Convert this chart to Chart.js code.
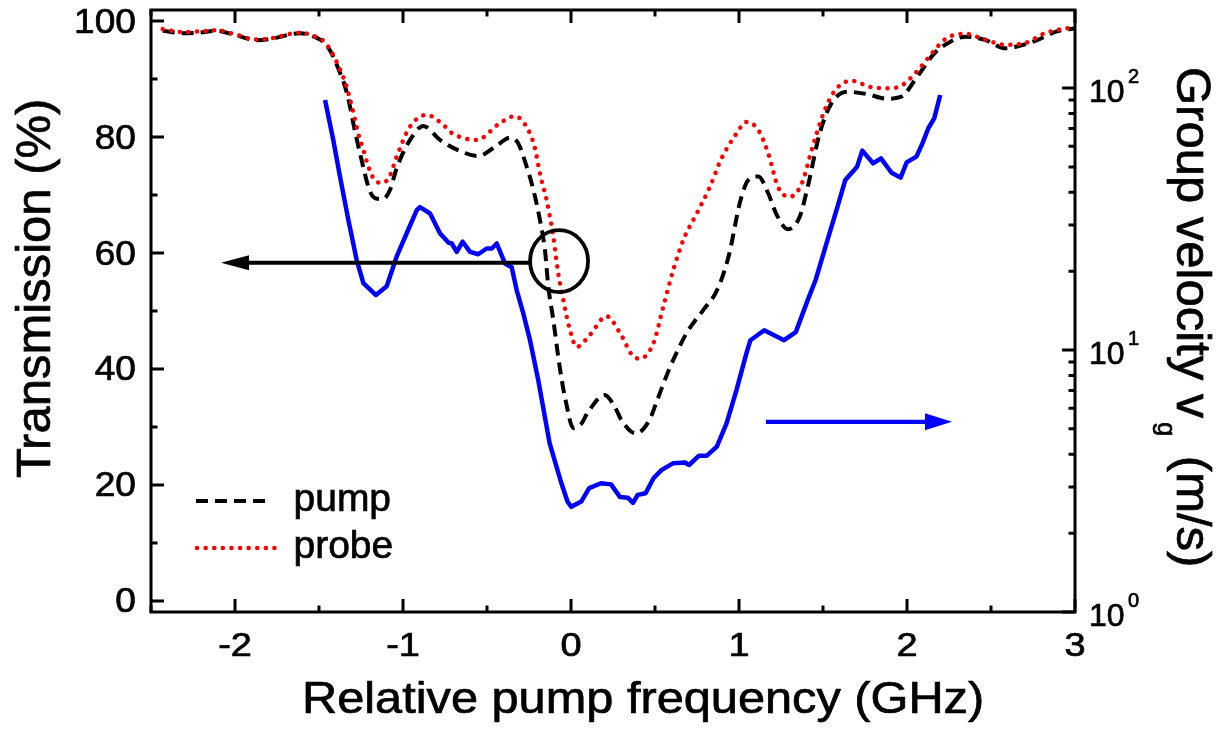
<!DOCTYPE html>
<html>
<head>
<meta charset="utf-8">
<title>Pump / probe transmission and group velocity</title>
<script src="https://cdn.jsdelivr.net/npm/chart.js@4.4.1/dist/chart.umd.min.js"></script>
<style>
  html, body { margin: 0; padding: 0; background: #fff; }
  #wrap { width: 1230px; height: 731px; }
</style>
</head>
<body>
<div id="wrap"><canvas id="chart" width="1230" height="731"></canvas></div>

<script>
// ===============================
// Data
// ===============================
// pump transmission (%), black dashed, left axis
const pumpX = [-2.43, -2.31, -2.21, -2.11, -2.01, -1.87, -1.77, -1.67, -1.61, -1.53, -1.47, -1.43,
  -1.385, -1.345, -1.315, -1.296, -1.256, -1.196, -1.16, -1.12, -1.077, -1.038, -0.958, -0.879,
  -0.78, -0.661, -0.552, -0.452, -0.363, -0.314, -0.264, -0.224, -0.185, -0.155, -0.135, -0.105,
  -0.076, -0.055, -0.033, 0.014, 0.06, 0.1, 0.2, 0.26, 0.3, 0.385, 0.467, 0.514, 0.585, 0.632,
  0.688, 0.788, 0.868, 0.938, 1.009, 1.056, 1.115, 1.174, 1.221, 1.291, 1.362, 1.409, 1.48,
  1.55, 1.644, 1.762, 1.88, 1.962, 2.068, 2.162, 2.256, 2.351, 2.468, 2.586, 2.656, 2.774,
  2.892, 3.0];
const pumpY = [98.3, 97.9, 98.0, 98.3, 97.7, 96.7, 97.0, 97.7, 97.9, 97.3, 96.3, 94.7,
  91.8, 88.7, 85.2, 82.4, 77.2, 70.6, 69.4, 69.3, 70.9, 74.6, 79.5, 81.9,
  79.5, 77.6, 76.7, 78.3, 79.9, 78.9, 74.9, 70.9, 65.7, 60.5, 54.2, 48.4,
  42.1, 38.1, 34.7, 29.8, 30.5, 32.5, 35.5, 33.5, 31.2, 28.9, 31.2, 34.7, 40.0, 43.0,
  46.2, 50.2, 53.5, 59.4, 69.1, 72.6, 73.2, 70.3, 66.8, 64.1, 66.3, 71.4, 80.6,
  85.8, 87.8, 87.4, 86.6, 86.9, 90.7, 94.4, 96.4, 97.3, 96.7, 95.3, 95.6, 96.7,
  98.2, 98.7];

// probe transmission (%), red dotted, left axis
const probeX = [-2.43, -2.31, -2.21, -2.11, -2.01, -1.87, -1.77, -1.67, -1.61, -1.53, -1.47, -1.43,
  -1.385, -1.345, -1.315, -1.29, -1.266, -1.236, -1.206, -1.16, -1.12, -1.08, -1.038, -0.958,
  -0.859, -0.76, -0.71, -0.561, -0.423, -0.333, -0.254, -0.214, -0.185, -0.145, -0.105, -0.076,
  -0.046, -0.006, 0.034, 0.113, 0.212, 0.292, 0.373, 0.411, 0.49, 0.549, 0.609, 0.668, 0.748,
  0.827, 0.891, 0.985, 1.044, 1.115, 1.174, 1.232, 1.303, 1.374, 1.433, 1.503, 1.574, 1.668,
  1.786, 1.903, 1.974, 2.068, 2.139, 2.233, 2.351, 2.445, 2.586, 2.704, 2.821, 3.0];
const probeY = [98.6, 98.1, 98.2, 98.4, 97.8, 96.8, 97.1, 97.8, 98.0, 97.4, 96.5, 94.9,
  92.3, 89.5, 86.5, 83.5, 80.6, 77.8, 74.9, 72.3, 72.1, 73.2, 76.6, 81.8,
  83.8, 82.1, 80.7, 79.5, 82.4, 83.6, 81.2, 78.0, 73.7, 69.1, 62.8, 56.5,
  51.9, 46.7, 43.8, 45.9, 49.1, 46.2, 42.1, 41.8, 44.4, 50.7, 57.1, 62.2, 66.8,
  71.4, 76.0, 80.6, 82.6, 81.2, 77.2, 71.4, 69.7, 72.0, 77.8, 84.1, 88.1, 89.7,
  88.6, 88.4, 89.0, 91.6, 94.1, 97.0, 97.8, 97.0, 95.9, 96.2, 97.9, 99.0];

// group velocity v_g (m/s), blue solid, right log axis
const vgX = [-1.464, -1.415, -1.375, -1.325, -1.276, -1.236, -1.161, -1.097, -1.038, -0.978,
  -0.918, -0.899, -0.839, -0.78, -0.73, -0.71, -0.68, -0.645, -0.601, -0.552, -0.502, -0.472,
  -0.442, -0.393, -0.353, -0.323, -0.284, -0.244, -0.195, -0.127, -0.057, -0.021, 0.002, 0.061,
  0.108, 0.179, 0.238, 0.291, 0.338, 0.369, 0.397, 0.444, 0.491, 0.538, 0.609, 0.679, 0.703,
  0.762, 0.809, 0.868, 0.926, 0.985, 1.044, 1.068, 1.15, 1.268, 1.338, 1.409, 1.456, 1.527,
  1.586, 1.633, 1.703, 1.734, 1.798, 1.845, 1.908, 1.962, 1.998, 2.056, 2.092, 2.127, 2.162,
  2.198];
const vgY = [90.0, 63.3, 45.9, 31.3, 22.1, 18.0, 16.2, 17.5, 22.7, 27.9,
  34.2, 35.1, 33.2, 27.9, 25.7, 25.5, 23.7, 25.9, 23.7, 23.2, 24.4, 24.4,
  25.5, 21.4, 20.7, 16.9, 13.8, 10.9, 7.68, 4.40, 3.10, 2.64, 2.52, 2.64,
  2.97, 3.10, 3.07, 2.75, 2.73, 2.61, 2.80, 2.84, 3.24, 3.48, 3.70, 3.72, 3.64,
  3.95, 3.95, 4.28, 5.25, 7.03, 9.71, 10.9, 11.9, 10.9, 11.7, 15.5, 18.5, 26.3,
  35.2, 44.6, 50.1, 57.7, 51.6, 53.9, 47.5, 45.5, 52.0, 54.7, 61.5, 70.2, 76.6,
  94.0];

// ticks and labels
const xTickValues = [-2.5, -2, -1.5, -1, -0.5, 0, 0.5, 1, 1.5, 2, 2.5, 3];
const xTickLabels = ['-2', '-1', '0', '1', '2', '3'];
const yTickValues = [0, 10, 20, 30, 40, 50, 60, 70, 80, 90, 100];
const yTickLabels = ['0', '20', '40', '60', '80', '100'];
const vgTickValues = [1, 2, 3, 4, 5, 6, 7, 8, 9, 10, 20, 30, 40, 50, 60, 70, 80, 90, 100];
const vgTickExponents = ['0', '1', '2'];

// annotation anchors in data units
const leftArrowFrom = [-0.244, 58.3];
const leftArrowTo = [-2.083, 58.3];
const circleCenter = [-0.071, 58.6];
const rightArrowFrom = [1.16, 5.32];
const rightArrowTo = [2.268, 5.32];

// ===============================
// Helpers
// ===============================
const FONT = '"Liberation Sans", Arial, Helvetica, sans-serif';
const PUMP_DASH = [12, 7];
const PROBE_DASH = [0.1, 8.5];

function toPoints(xs, ys) {
  return xs.map((x, i) => ({ x: x, y: ys[i] }));
}

// text drawn slightly heavier, like the exported figure
function text(ctx, s, x, y, size, opts) {
  opts = opts || {};
  ctx.save();
  ctx.translate(x, y);
  if (opts.rot) ctx.rotate(opts.rot);
  ctx.scale(opts.sx || 1, 1);
  ctx.font = size + 'px ' + FONT;
  ctx.textAlign = opts.align || 'left';
  ctx.textBaseline = 'alphabetic';
  ctx.fillStyle = '#000';
  ctx.strokeStyle = '#000';
  ctx.lineWidth = 0.7;
  ctx.fillText(s, 0, 0);
  ctx.strokeText(s, 0, 0);
  ctx.restore();
}

function arrow(ctx, x0, y0, x1, y1, color, width, headLen, headHalf) {
  const dir = Math.sign(x1 - x0);
  ctx.save();
  ctx.strokeStyle = color;
  ctx.fillStyle = color;
  ctx.lineWidth = width;
  ctx.beginPath();
  ctx.moveTo(x0, y0);
  ctx.lineTo(x1 - dir * headLen * 0.7, y1);
  ctx.stroke();
  ctx.beginPath();
  ctx.moveTo(x1, y1);
  ctx.lineTo(x1 - dir * headLen, y1 - headHalf);
  ctx.lineTo(x1 - dir * headLen, y1 + headHalf);
  ctx.closePath();
  ctx.fill();
  ctx.restore();
}

// ===============================
// Frame, ticks, labels, legend
// ===============================
const framePlugin = {
  id: 'frame',
  afterDatasetsDraw(chart) {
    const { ctx, scales: { x, y, y1 } } = chart;

    // arrow pointing left (transmission curves belong to left axis)
    arrow(ctx,
      x.getPixelForValue(leftArrowFrom[0]), y.getPixelForValue(leftArrowFrom[1]),
      x.getPixelForValue(leftArrowTo[0]), y.getPixelForValue(leftArrowTo[1]),
      '#000', 4, 28, 7.5);

    // circle round the curves
    ctx.save();
    ctx.strokeStyle = '#000';
    ctx.lineWidth = 3.8;
    ctx.beginPath();
    ctx.ellipse(x.getPixelForValue(circleCenter[0]), y.getPixelForValue(circleCenter[1]),
      29, 31, 0, 0, Math.PI * 2);
    ctx.stroke();
    ctx.restore();

    // blue arrow pointing right (v_g belongs to right axis)
    arrow(ctx,
      x.getPixelForValue(rightArrowFrom[0]), y1.getPixelForValue(rightArrowFrom[1]),
      x.getPixelForValue(rightArrowTo[0]), y1.getPixelForValue(rightArrowTo[1]),
      '#0000ff', 4.2, 27, 8.5);
  },
  afterDraw(chart) {
    const { ctx, chartArea: a, scales: { x, y, y1 } } = chart;

    ctx.save();
    ctx.strokeStyle = '#000';
    ctx.lineWidth = 3;
    ctx.strokeRect(a.left, a.top, a.right - a.left, a.bottom - a.top);

    ctx.beginPath();
    xTickValues.forEach(v => {
      const px = x.getPixelForValue(v);
      const len = Number.isInteger(v) ? 13 : 6.5;
      ctx.moveTo(px, a.bottom); ctx.lineTo(px, a.bottom - len);
      ctx.moveTo(px, a.top); ctx.lineTo(px, a.top + len);
    });
    yTickValues.forEach(v => {
      const py = y.getPixelForValue(v);
      const len = v % 20 === 0 ? 13 : 6.5;
      ctx.moveTo(a.left, py); ctx.lineTo(a.left + len, py);
    });
    vgTickValues.forEach(v => {
      const py = y1.getPixelForValue(v);
      const major = Math.abs(Math.log10(v) - Math.round(Math.log10(v))) < 1e-9;
      const len = major ? 13 : 6.5;
      ctx.moveTo(a.right, py); ctx.lineTo(a.right - len, py);
    });
    ctx.stroke();
    ctx.restore();

    // tick labels
    xTickLabels.forEach(s => {
      text(ctx, s, x.getPixelForValue(Number(s)), 656, 33, { sx: 1.15, align: 'center' });
    });
    yTickLabels.forEach(s => {
      text(ctx, s, a.left - 15, y.getPixelForValue(Number(s)) + 11.5, 35, { sx: 1.06, align: 'right' });
    });
    vgTickExponents.forEach(e => {
      const py = y1.getPixelForValue(Math.pow(10, Number(e)));
      text(ctx, '10', a.right + 14, py + 14, 32);
      text(ctx, e, a.right + 53, py - 5, 20);
    });

    // axis titles
    text(ctx, 'Relative pump frequency (GHz)', 302, 713, 44, { sx: 1.107 });
    text(ctx, 'Transmission (%)', 49.5, 478, 49, { rot: -Math.PI / 2 });

    ctx.save();
    ctx.translate(1176.5, 67);
    ctx.rotate(Math.PI / 2);
    ctx.fillStyle = '#000';
    ctx.strokeStyle = '#000';
    ctx.lineWidth = 0.7;
    ctx.textBaseline = 'alphabetic';
    ctx.font = '49px ' + FONT;
    const main = 'Group velocity v';
    ctx.fillText(main, 0, 0);
    ctx.strokeText(main, 0, 0);
    let off = ctx.measureText(main).width + 4;
    ctx.font = '25px ' + FONT;
    ctx.fillText('g', off, 19);
    ctx.strokeText('g', off, 19);
    off += ctx.measureText('g').width;
    ctx.font = '49px ' + FONT;
    ctx.fillText(' (m/s)', off + 6, 0);
    ctx.strokeText(' (m/s)', off + 6, 0);
    ctx.restore();

    // legend
    ctx.save();
    ctx.lineWidth = 4;
    ctx.strokeStyle = '#000';
    ctx.setLineDash(PUMP_DASH);
    ctx.beginPath();
    ctx.moveTo(196, 501); ctx.lineTo(272, 501);
    ctx.stroke();
    ctx.strokeStyle = '#ff0000';
    ctx.lineWidth = 4.5;
    ctx.lineCap = 'round';
    ctx.setLineDash(PROBE_DASH);
    ctx.beginPath();
    ctx.moveTo(197, 548); ctx.lineTo(283, 548);
    ctx.stroke();
    ctx.restore();
    text(ctx, 'pump', 293.5, 511, 39);
    text(ctx, 'probe', 293.5, 558, 39);
  }
};

// ===============================
// Chart
// ===============================
const hiddenAxis = {
  ticks: { display: false },
  grid: { display: false },
  border: { display: false },
  title: { display: false }
};

new Chart(document.getElementById('chart'), {
  type: 'line',
  data: {
    datasets: [
      {
        label: 'probe',
        data: toPoints(probeX, probeY),
        yAxisID: 'y',
        borderColor: '#ff0000',
        borderWidth: 4.5,
        borderDash: PROBE_DASH,
        borderCapStyle: 'round',
        cubicInterpolationMode: 'monotone',
        pointRadius: 0,
        fill: false
      },
      {
        label: 'pump',
        data: toPoints(pumpX, pumpY),
        yAxisID: 'y',
        borderColor: '#000000',
        borderWidth: 4,
        borderDash: PUMP_DASH,
        cubicInterpolationMode: 'monotone',
        pointRadius: 0,
        fill: false
      },
      {
        label: 'v_g',
        data: toPoints(vgX, vgY),
        yAxisID: 'y1',
        borderColor: '#0000ff',
        borderWidth: 4.5,
        borderJoinStyle: 'round',
        tension: 0,
        pointRadius: 0,
        fill: false
      }
    ]
  },
  options: {
    responsive: false,
    animation: false,
    layout: { padding: { top: 10, left: 0, right: 0, bottom: 0 } },
    plugins: {
      legend: { display: false },
      tooltip: { enabled: false }
    },
    scales: {
      x: Object.assign({}, hiddenAxis, {
        type: 'linear', position: 'bottom', min: -2.5, max: 3,
        afterFit(s) { s.height = 119; }
      }),
      y: Object.assign({}, hiddenAxis, {
        type: 'linear', position: 'left', min: -1.9, max: 101.9,
        afterFit(s) { s.width = 151; }
      }),
      y1: Object.assign({}, hiddenAxis, {
        type: 'logarithmic', position: 'right', min: 1, max: 198.5,
        afterFit(s) { s.width = 155; }
      })
    }
  },
  plugins: [framePlugin]
});
</script>
</body>
</html>
